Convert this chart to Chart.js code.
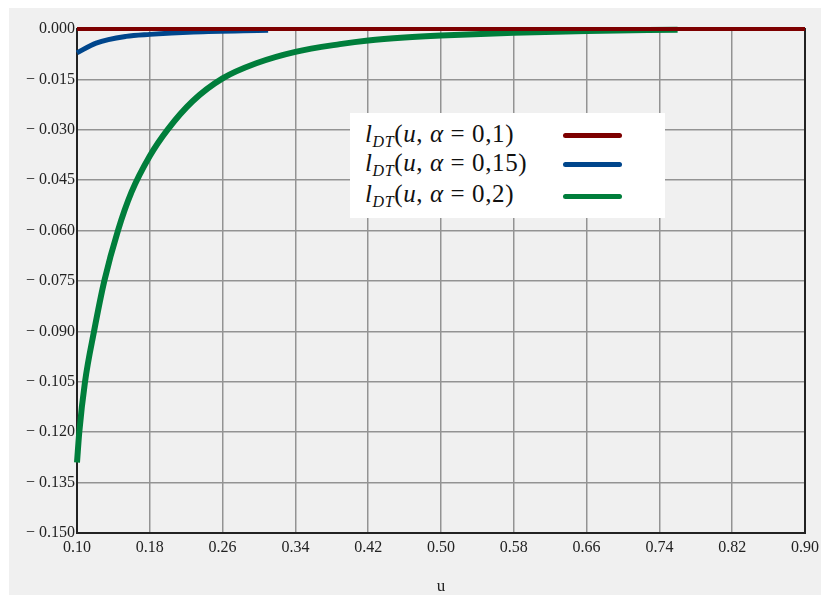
<!DOCTYPE html>
<html>
<head>
<meta charset="utf-8">
<script src="https://cdn.jsdelivr.net/npm/chart.js@4.4.1/dist/chart.umd.min.js"></script>
<style>
  html, body { margin: 0; padding: 0; background: #fff; }
  #frame { position: absolute; left: 9px; top: 8px; width: 812px; height: 587px; background: #f0f0f0; }
  #wrap { position: absolute; left: 0; top: 0; width: 821px; height: 595px; }
  #legend {
    position: absolute; left: 350px; top: 113px; width: 315px; height: 105px;
    background: #fff; font-family: "Liberation Serif", "DejaVu Serif", serif; font-size: 25px; color: #111;
  }
  .row { position: absolute; left: 15px; height: 30px; line-height: 30px; white-space: nowrap; letter-spacing: 0.6px; }
  .row sub { font-size: 16px; vertical-align: -5px; }
  .swatch { position: absolute; left: 213px; width: 59px; height: 5px; border-radius: 3px; }
</style>
</head>
<body>
<div id="frame"></div>
<div id="wrap"><canvas id="chart" width="821" height="595"></canvas></div>
<div id="legend">
  <div class="row" style="top:6px"><i>l</i><sub><i>DT</i></sub>(<i>u</i>, <i>α</i> = 0,1)</div>
  <div class="swatch" style="top:20px;background:#7d0000"></div>
  <div class="row" style="top:35px"><i>l</i><sub><i>DT</i></sub>(<i>u</i>, <i>α</i> = 0,15)</div>
  <div class="swatch" style="top:49px;background:#00468c"></div>
  <div class="row" style="top:66px"><i>l</i><sub><i>DT</i></sub>(<i>u</i>, <i>α</i> = 0,2)</div>
  <div class="swatch" style="top:81px;background:#007e3b"></div>
</div>
<script>
// values
const xTicks = [0.10, 0.18, 0.26, 0.34, 0.42, 0.50, 0.58, 0.66, 0.74, 0.82, 0.90];
const yTicks = [0, -0.015, -0.030, -0.045, -0.060, -0.075, -0.090, -0.105, -0.120, -0.135, -0.150];

const uRed = [0.10, 0.90];
const lRed = [0, 0];

const uBlue = [0.10, 0.121, 0.154, 0.18, 0.228, 0.31];
const lBlue = [-0.0071, -0.0042, -0.0022, -0.0016, -0.0009, -0.0004];

const uGreen = [0.100, 0.1025, 0.1088, 0.1187, 0.130, 0.145, 0.160, 0.180, 0.200, 0.227, 0.260, 0.297, 0.340, 0.389, 0.420, 0.460, 0.500, 0.580, 0.660, 0.760];
const lGreen = [-0.129, -0.120, -0.105, -0.090, -0.075, -0.0600, -0.0485, -0.0378, -0.0298, -0.0215, -0.0147, -0.0102, -0.0068, -0.0045, -0.0034, -0.0025, -0.0019, -0.0011, -0.0006, -0.0002];

const pts = (xs, ys) => xs.map((x, i) => ({x: x, y: ys[i]}));

const serif = '"Liberation Serif", "Times New Roman", serif';

const frameBox = {
  id: 'frameBox',
  beforeDatasetsDraw(chart) {
    const a = chart.chartArea, ctx = chart.ctx;
    ctx.save();
    ctx.strokeStyle = '#222';
    ctx.lineWidth = 2;
    ctx.strokeRect(a.left, a.top, a.right - a.left, a.bottom - a.top);
    ctx.restore();
  }
};

new Chart(document.getElementById('chart'), {
  type: 'line',
  data: {
    datasets: [
      {label: 'a=0,1', data: pts(uRed, lRed), borderColor: '#7d0000', borderWidth: 4},
      {label: 'a=0,15', data: pts(uBlue, lBlue), borderColor: '#00468c', borderWidth: 5},
      {label: 'a=0,2', data: pts(uGreen, lGreen), borderColor: '#007e3b', borderWidth: 6}
    ]
  },
  options: {
    responsive: false,
    devicePixelRatio: 1,
    animation: false,
    clip: false,
    elements: {
      point: {radius: 0},
      line: {cubicInterpolationMode: 'monotone', fill: false}
    },
    layout: {autoPadding: false, padding: {top: 29, right: 16, left: 0, bottom: 0}},
    plugins: {legend: {display: false}, tooltip: {enabled: false}},
    scales: {
      x: {
        type: 'linear', min: 0.10, max: 0.90,
        afterFit: s => { s.height = 62; s.paddingLeft = 0; s.paddingRight = 0; },
        afterBuildTicks: s => { s.ticks = xTicks.map(v => ({value: v})); },
        grid: {color: '#939393', lineWidth: 1.5, drawTicks: false},
        border: {color: '#222', width: 2},
        ticks: {
          padding: 5, color: '#222', maxRotation: 0, autoSkip: false,
          font: {family: serif, size: 16},
          callback: v => v.toFixed(2)
        },
        title: {display: true, text: 'u', color: '#222', padding: 0,
          font: {family: serif, size: 17, lineHeight: 1}}
      },
      y: {
        type: 'linear', min: -0.150, max: 0,
        afterFit: s => { s.width = 77; s.paddingTop = 0; s.paddingBottom = 0; },
        afterBuildTicks: s => { s.ticks = yTicks.map(v => ({value: v})); },
        grid: {color: '#939393', lineWidth: 1.5, drawTicks: false},
        border: {color: '#222', width: 2},
        ticks: {
          padding: 2, color: '#222', autoSkip: false,
          font: {family: serif, size: 16},
          callback: v => v === 0 ? '0.000' : '\u2212 ' + Math.abs(v).toFixed(3)
        }
      }
    }
  },
  plugins: [frameBox]
});
</script>
</body>
</html>
